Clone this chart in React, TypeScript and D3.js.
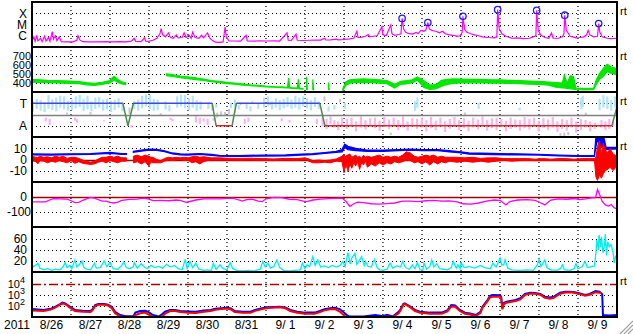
import React from 'react';
import * as d3 from 'd3';

const W = 633, H = 334;
const X0 = 32, X1 = 617;
const panelTops = [2, 47, 92, 137, 182, 227, 272];
const PH = 45;
const dayLabels = ['8/26','8/27','8/28','8/29','8/30','8/31','9/ 1','9/ 2','9/ 3','9/ 4','9/ 5','9/ 6','9/ 7','9/ 8','9/ 9'];
const yearLabel = '2011';

// X-ray flux [day, W/m2]
const xray: [number, number][] = [
[0.00,3.0e-7],[0.05,8e-7],[0.08,3.2e-7],[0.12,1.1e-6],[0.15,3.5e-7],[0.22,6e-7],[0.26,3.0e-7],[0.32,9e-7],[0.36,3.4e-7],[0.42,7e-7],[0.46,3.2e-7],[0.52,2.3e-6],[0.55,5e-7],[0.60,1.0e-6],[0.64,3.5e-7],[0.70,8e-7],[0.75,3.0e-7],[0.85,2.9e-7],[0.95,2.8e-7],
[1.05,2.9e-7],[1.15,4e-7],[1.18,1.0e-6],[1.22,4.5e-7],[1.3,3.0e-7],[1.45,2.8e-7],[1.6,2.9e-7],[1.75,2.8e-7],[1.9,3.0e-7],
[2.0,2.9e-7],[2.1,2.8e-7],[2.25,3.0e-7],[2.4,2.9e-7],[2.55,3.3e-7],[2.62,6e-7],[2.66,3.2e-7],[2.8,3.0e-7],[2.88,6.5e-7],[2.92,3.2e-7],[3.0,3.3e-7],
[3.1,4e-7],[3.2,6e-7],[3.28,1.5e-6],[3.31,4.2e-6],[3.35,1.2e-6],[3.42,8e-7],[3.5,1.8e-6],[3.55,7e-7],[3.62,6e-7],[3.7,1.2e-6],[3.75,6.5e-7],[3.85,7e-7],[3.9,1.8e-6],[3.95,7e-7],[4.02,1.2e-6],[4.08,6e-7],[4.12,2.1e-6],[4.18,7e-7],[4.28,6e-7],[4.35,1.1e-6],[4.4,6.5e-7],[4.5,1.8e-6],[4.56,6e-7],[4.62,4e-7],[4.7,2.7e-7],[4.8,2.6e-7],[4.9,2.8e-7],
[4.95,6e-6],[4.98,8e-7],[5.05,3.5e-7],[5.2,3.4e-7],[5.35,3.3e-7],[5.49,1.1e-6],[5.52,3.5e-7],[5.7,3.3e-7],[5.85,3.6e-7],[6.0,3.4e-7],[6.2,3.5e-7],[6.35,3.4e-7],[6.54,1.8e-6],[6.57,4e-7],[6.65,3.8e-7],[6.77,1.4e-6],[6.8,4e-7],[6.95,3.8e-7],[7.1,4e-7],[7.25,4.2e-7],[7.4,4.1e-7],[7.5,6e-7],[7.53,4.2e-7],[7.65,4.3e-7],[7.8,5e-7],[7.85,4.3e-7],[7.95,4.4e-7],[8.05,5e-7],[8.15,5.2e-7],[8.25,6e-7],[8.33,2.5e-6],[8.36,7e-7],[8.45,7.5e-7],[8.55,9e-7],[8.62,1.3e-6],[8.66,8e-7],[8.75,9e-7],[8.85,1.0e-6],[8.97,6e-6],[9.0,1.2e-6],[9.08,1.0e-6],[9.2,9e-6],[9.23,1.5e-6],[9.3,1.1e-6],[9.4,1.3e-6],[9.46,1.5e-6],[9.49,3.5e-5],[9.53,4e-6],[9.58,2e-6],[9.65,1.6e-6],[9.75,1.4e-6],[9.85,2e-6],[9.9,1.5e-6],[9.97,3e-6],[10.05,2.5e-6],[10.1,3.5e-6],[10.15,1.5e-5],[10.19,4e-6],[10.25,3e-6],[10.35,2.5e-6],[10.45,1.8e-6],[10.52,2.5e-6],[10.6,1.5e-6],[10.7,1.2e-6],[10.8,1.1e-6],[10.9,9e-7],[10.98,1.0e-6],[11.03,2e-6],[11.05,5.3e-5],[11.09,4e-6],[11.15,2e-6],[11.25,1.5e-6],[11.35,1.2e-6],[11.45,1.0e-6],[11.55,8e-7],[11.7,7e-7],[11.85,6.5e-7],[11.92,8e-7],[11.94,2.1e-4],[11.98,4e-6],[12.05,1.5e-6],[12.15,9e-7],[12.3,6e-7],[12.45,6.5e-7],[12.6,5.5e-7],[12.75,6e-7],[12.85,8e-7],[12.92,1e-6],[12.94,1.8e-4],[12.98,3e-6],[13.05,1.1e-6],[13.15,7e-7],[13.25,6e-7],[13.32,1.8e-6],[13.36,6e-7],[13.5,6e-7],[13.6,8e-7],[13.64,1.5e-6],[13.66,6.7e-5],[13.7,3e-6],[13.8,9e-7],[13.95,6.5e-7],[14.05,7e-7],[14.15,8e-7],[14.22,1.2e-6],[14.26,3.0e-6],[14.3,1.2e-6],[14.4,8e-7],[14.5,9e-7],[14.53,1.2e-5],[14.56,2e-6],[14.62,8e-7],[14.75,6e-7],[14.85,5.5e-7],[15.0,6e-7]
];
const flares: [number, number][] = [[9.49,3.5e-5],[10.15,1.5e-5],[11.05,5.3e-5],[11.94,2.1e-4],[12.94,1.8e-4],[13.66,6.7e-5],[14.53,1.2e-5]];

// Solar wind speed [day, low, high] km/s, null = gap
const speed: [number, number | null, number | null][] = [
[0.0,410,440],[0.2,408,435],[0.4,405,430],[0.6,402,428],[0.8,398,424],[1.0,395,420],[1.2,392,416],[1.4,380,404],[1.6,374,395],[1.8,384,408],[2.0,400,428],[2.1,435,475],[2.2,405,438],[2.3,390,414],[2.4,384,404],
[2.41,null,null],
[3.45,482,503],[3.6,472,493],[3.8,458,478],[4.0,448,467],[4.2,438,456],[4.4,428,444],[4.6,414,428],[4.8,403,418],[5.0,394,408],[5.2,386,398],[5.4,377,390],[5.6,370,380],[5.8,364,374],[6.0,358,366],[6.2,353,360],[6.4,349,356],[6.55,346,353],[6.58,346,456],[6.61,343,350],[6.8,337,344],[6.83,336,440],[6.86,335,342],[6.95,333,339],
[6.96,null,null],
[7.04,325,470],[7.06,325,330],[7.07,null,null],
[7.2,325,440],[7.22,325,330],[7.23,null,null],
[7.6,325,405],[7.62,325,330],[7.63,null,null],
[7.97,320,340],[8.05,375,415],[8.15,398,436],[8.3,405,440],[8.5,408,445],[8.7,404,440],[8.9,398,435],[9.1,392,428],[9.3,345,385],[9.45,385,418],[9.6,390,426],[9.75,403,436],[9.88,432,468],[10.05,350,425],[10.2,328,378],[10.35,335,382],[10.5,365,430],[10.65,385,440],[10.8,395,445],[11.0,400,442],[11.25,402,440],[11.5,403,441],[11.75,398,436],[12.0,398,434],[12.25,395,430],[12.5,392,428],[12.75,388,422],[13.0,385,418],[13.25,375,410],[13.45,350,405],[13.6,345,400],[13.65,345,490],[13.72,340,395],[13.8,335,480],[13.88,333,475],[13.95,327,343],[14.2,323,338],[14.4,326,343],[14.47,385,435],[14.55,440,505],[14.65,475,562],[14.75,528,608],[14.85,505,578],[15.0,492,560]
];

// IMF sector (phi deg, 315 = T, 135 = A)
const sectorDay = [0, 2.33, 2.46, 2.6, 4.62, 4.72, 5.13, 5.24, 7.38, 7.51, 14.87, 15.0];
const sectorPhi = [315, 315, 135, 315, 315, 135, 135, 315, 315, 135, 135, 290];

// phi scatter ranges [day, low, high]
const phiToward: [number, number, number][] = [
[0.02,250,330],[0.12,270,350],[0.22,255,340],[0.32,245,320],[0.42,270,380],[0.52,260,345],[0.62,250,360],[0.72,280,375],[0.82,265,370],[0.92,255,335],
[1.02,260,345],[1.12,275,370],[1.22,285,380],[1.32,255,350],[1.42,265,375],[1.52,250,330],[1.62,270,360],[1.72,280,365],[1.82,255,345],[1.92,265,350],
[2.02,245,335],[2.12,260,340],[2.22,280,355],[2.32,250,320],[2.62,270,330],[2.72,255,345],[2.82,275,375],[2.92,290,385],[3.02,270,380],[3.12,255,350],[3.22,260,345],[3.42,265,330],[3.52,250,300],
[3.72,280,370],[3.82,290,385],[3.92,275,380],[4.02,260,355],[4.12,280,375],[4.22,255,340],[4.32,265,330],[4.52,270,320],[4.62,255,300],[4.72,280,310],
[5.1,275,320],[5.2,285,345],[5.3,265,300],[5.5,270,320],[5.6,250,290],[5.8,270,310],[5.95,280,360],[6.05,290,370],[6.15,265,330],[6.25,280,355],[6.35,260,340],[6.45,275,350],[6.55,285,365],[6.65,270,345],[6.75,280,375],[6.85,265,360],[6.95,290,370],[7.05,275,355],[7.15,260,340],[7.25,285,365],[7.35,270,330],
[7.6,250,290],[7.75,265,300],[8.02,270,320],[9.82,255,330],[9.88,280,360],[11.45,270,320],[12.5,260,280],[14.08,265,360],[14.12,285,375],[14.55,260,350],[14.65,280,380],[14.75,270,370],[14.85,255,340],[14.95,280,370]
];
const phiAway: [number, number, number][] = [
[0.35,170,200],[0.45,140,190],[1.1,175,200],[1.15,160,190],[1.85,170,180],[2.55,120,140],[3.55,180,200],[3.6,170,190],[4.2,160,210],[4.3,150,200],[4.4,170,195],[4.5,140,190],[4.65,175,195],[5.45,150,190],[5.55,165,200],[6.4,170,195],[6.6,160,180],[7.3,150,190],
[7.45,130,200],[7.55,110,190],[7.65,150,210],[7.75,120,180],[7.85,100,170],[7.95,140,200],[8.07,110,190],[8.19,130,200],[8.31,90,170],[8.43,120,210],[8.55,105,180],[8.67,135,195],[8.79,115,200],[8.91,95,175],[9.03,125,205],[9.15,110,185],[9.27,140,200],[9.39,100,180],[9.51,120,210],[9.63,95,170],[9.75,130,195],[9.87,110,190],[9.99,120,200],[10.11,90,180],[10.23,115,205],[10.35,100,175],[10.47,130,200],[10.59,85,170],[10.71,110,190],[10.83,125,205],[10.95,100,180],[11.07,115,195],[11.19,90,175],[11.31,120,200],[11.43,105,185],[11.55,130,210],[11.67,95,180],[11.79,115,195],[11.91,100,200],[12.03,125,190],[12.15,90,175],[12.27,110,200],[12.39,120,185],[12.51,95,180],[12.63,115,205],[12.75,105,190],[12.87,130,200],[12.99,90,175],[13.11,115,195],[13.23,100,185],[13.35,120,205],[13.47,85,170],[13.59,110,190],[13.71,95,180],[13.83,120,200],[13.95,80,170],[14.07,100,190],[14.19,120,180],[14.31,90,170],[14.43,110,160],[14.6,120,180],[14.7,100,170],[14.8,110,190],[14.9,130,170]
];
const phiOther: [number, number, number][] = [
[0.9,225,240],[1.5,225,245],[2.5,230,280],[3.3,215,235],[4.75,200,240],[4.85,210,250],[4.95,220,245],[5.05,230,270],[5.35,300,320],[5.65,310,330],[6.1,300,320],[7.5,330,370],[7.9,320,350],[9.2,60,80],[11.1,220,240],[13.55,55,75],[13.65,50,80],[13.75,60,85],[14.2,215,240]
];

// Bt [day, low, high] nT
const bt: [number, number | null, number | null][] = [
[0,4.3,5.1],[0.5,4.1,4.9],[1.0,4.4,5.2],[1.5,4.6,5.4],[2.0,5.6,6.4],[2.3,4.6,5.4],[2.42,4.6,5.4],[2.43,null,null],[2.6,6.6,7.4],[2.8,7.6,8.4],[3.0,8.6,9.4],[3.2,8.3,9.1],[3.4,7.1,7.9],[3.6,5.1,5.9],[3.8,4.3,5],[4.0,4.1,4.9],[4.3,4.6,5.4],[4.6,3.8,4.6],[4.8,3.0,3.8],[5.3,2.8,3.5],[5.9,3.2,4.0],[6.5,3.4,4.1],[6.9,4,4.8],[7.2,4.5,5.3],[7.5,5.5,6.3],[7.8,6.5,7.3],[7.95,7,9],[8.02,11,14],[8.1,9,12],[8.3,8,10],[8.6,7.5,8.5],[9.0,7.5,8.5],[9.4,8,9],[9.7,8.5,9.5],[10.0,8,9],[10.4,8,9],[10.7,7,8],[11.0,6,7],[11.2,5,6],[11.8,4.5,5.5],[12.5,4.2,5],[13.0,4,4.7],[13.5,3.3,4],[14.0,2.8,3.5],[14.42,2.8,3.5],[14.46,12,21],[14.5,18,21],[14.58,11,21],[14.66,12,21],[14.72,9,11],[14.85,9.5,11],[15.0,9.5,11]
];
// Bz [day, low, high] nT
const bz: [number, number | null, number | null][] = [
[0.0,-1,3],[0.1,-2,2],[0.15,-4,2],[0.2,-1,3],[0.3,-1.5,2],[0.4,-3,2.5],[0.5,-1.5,1.5],[0.6,-2.5,3],[0.7,-1,2],[0.8,-2,3],[0.9,-3,1],[1.0,-1,2],[1.1,-3.5,2],[1.2,-2,1],[1.3,-3.5,-0.5],[1.4,-4,-1.5],[1.5,-4.5,-2.5],[1.6,-4,-1.5],[1.7,-2.5,0.5],[1.8,-1.5,2],[1.9,-3,2],[2.0,-1,3],[2.1,-2,2],[2.2,-3,3],[2.3,-1.5,1.5],[2.42,-1.5,1.5],[2.43,null,null],
[2.6,-3,3],[2.7,-2,4],[2.8,-4,2.5],[2.9,-2,4],[3.0,-6,3],[3.05,-2,2],[3.1,-3,2],[3.2,-3,0],[3.3,-3,-1],[3.4,-1.5,1],[3.5,-0.5,2],[3.6,-1,1.5],[3.7,-0.5,2],[3.8,0,1.5],[3.9,-1,2],[4.0,-0.5,1.5],[4.1,-3,2.5],[4.2,-2,3],[4.3,-4,2],[4.4,-2,2.5],[4.5,-1,2],[4.6,-0.5,1.5],[4.8,-0.5,1.5],[5.0,-0.5,1.2],[5.3,-0.8,1],[5.6,-0.5,1.2],[5.9,-0.8,0.8],[6.2,-1,0.5],[6.5,-0.5,1],[6.8,-0.8,0.8],[7.0,0,1.5],[7.1,-1.5,0.5],[7.2,-3,-1],[7.35,-3,-0.5],[7.5,-2.5,-1],[7.65,-3,-0.5],[7.8,-1.5,0.5],[7.95,-2,3],
[8.0,-12,5],[8.03,-4,2],[8.05,-8,3],[8.08,-2,4],[8.1,-11,4],[8.15,-4,5],[8.2,-8,2],[8.25,-3,3],[8.3,-6,4],[8.35,-2,2],[8.4,-9,3],[8.45,-3,1],[8.5,-5,4],[8.55,-1,2],[8.6,-7,3],[8.7,-4,2],[8.8,-6,3],[8.9,-3,4],[9.0,-5,2],[9.1,-3,3],[9.2,-4,2],[9.3,-2,3],[9.4,-3,2],[9.5,-2,4],[9.6,-0.5,7],[9.7,-1,6],[9.8,-3,3],[9.9,-2,2],[10.0,-4,3],[10.1,-2,4],[10.2,-5,3],[10.3,-2,4],[10.4,-4,2],[10.5,-2,3],[10.6,-3,2],[10.7,-1.5,2],[10.9,-2.5,2],[11.1,-1.5,1.5],[11.3,-2.5,2],[11.5,-1.5,1],[11.7,-2.5,1.5],[11.9,-1.5,1.5],[12.1,-0.8,0.8],[12.3,-1.5,0.8],[12.5,-1,0.8],[12.7,-0.8,0.8],[12.9,-1,0.3],[13.1,-0.8,0.8],[13.3,-0.8,0.3],[13.5,-0.8,0.8],[13.7,-0.3,0.8],[13.9,-0.8,0.3],[14.1,-0.3,0.8],[14.3,-0.8,0.8],[14.42,-0.3,0.8],
[14.46,-16,2],[14.5,-19,12],[14.55,-14,17],[14.6,-17,5],[14.65,-13,15],[14.7,-10,9],[14.76,-9,6],[14.82,-7,10],[14.9,-10,5],[15.0,-6,3]
];

// Dst index [day, nT]
const dst: [number, number][] = [
[0,-33],[0.2,-33],[0.35,-32],[0.45,-20],[0.55,-11],[0.7,-12],[0.9,-14],[1.0,-25],[1.1,-38],[1.2,-36],[1.3,-22],[1.4,-12],[1.5,-3],[1.6,-8],[1.7,-18],[1.8,-27],[1.9,-28],[2.0,-36],[2.1,-40],[2.2,-34],[2.3,-22],[2.5,-16],[2.7,-14],[2.85,-8],[3.0,-14],[3.1,-24],[3.3,-22],[3.5,-25],[3.7,-20],[3.8,-22],[3.95,-36],[4.05,-30],[4.2,-20],[4.4,-13],[4.6,-12],[4.8,-13],[5.0,-9],[5.15,-8],[5.3,-20],[5.4,-27],[5.5,-18],[5.65,-15],[5.8,-28],[5.9,-31],[6.0,-12],[6.2,-3],[6.4,-4],[6.6,-15],[6.8,-18],[6.95,-28],[7.05,-31],[7.2,-20],[7.4,-14],[7.6,-11],[7.8,-9],[7.95,-7],[8.05,-30],[8.15,-62],[8.25,-45],[8.35,-35],[8.5,-38],[8.7,-45],[8.9,-48],[9.1,-44],[9.3,-40],[9.5,-28],[9.7,-27],[9.9,-31],[10.1,-25],[10.3,-22],[10.5,-27],[10.7,-26],[10.9,-32],[11.05,-45],[11.25,-47],[11.45,-40],[11.65,-28],[11.85,-20],[12.0,-22],[12.15,-53],[12.25,-30],[12.45,-20],[12.7,-18],[12.9,-22],[13.05,-40],[13.15,-53],[13.3,-20],[13.5,-13],[13.7,-15],[13.9,-10],[14.05,-18],[14.2,-12],[14.35,-5],[14.45,-4],[14.5,51],[14.55,20],[14.62,-30],[14.7,-53],[14.78,-60],[14.85,-50],[14.92,-70],[15.0,-82]
];

// panel 6 series [day, value]
const cyanSeries: [number, number][] = [
[0,8],[0.08,12],[0.15,16],[0.2,7],[0.3,4],[0.4,6],[0.5,3],[0.6,5],[0.72,4],[0.8,10],[0.85,17],[0.9,8],[0.97,12],[1.02,6],[1.1,22],[1.15,9],[1.22,14],[1.28,20],[1.33,8],[1.4,5],[1.5,4],[1.6,16],[1.65,7],[1.75,8],[1.85,20],[1.92,10],[2.0,17],[2.08,6],[2.2,5],[2.3,12],[2.35,18],[2.42,8],[2.5,6],[2.6,10],[2.62,17],[2.7,7],[2.8,15],[2.88,9],[2.95,6],[3.05,12],[3.15,8],[3.25,10],[3.35,7],[3.45,14],[3.55,9],[3.65,12],[3.75,6],[3.85,4],[3.93,23],[3.98,6],[4.05,19],[4.12,8],[4.2,16],[4.28,5],[4.4,3],[4.5,4],[4.6,3],[4.65,16],[4.72,5],[4.82,13],[4.9,6],[5.0,4],[5.08,17],[5.15,6],[5.25,3],[5.4,2],[5.55,3],[5.7,2],[5.85,5],[5.92,19],[5.98,9],[6.05,16],[6.12,7],[6.2,10],[6.28,22],[6.35,8],[6.45,3],[6.6,2],[6.75,3],[6.88,4],[6.93,16],[7.0,6],[7.05,13],[7.12,10],[7.2,28],[7.26,12],[7.33,22],[7.4,9],[7.5,11],[7.6,8],[7.7,12],[7.8,9],[7.9,12],[7.97,19],[8.03,10],[8.1,35],[8.16,15],[8.2,25],[8.28,34],[8.33,14],[8.38,19],[8.45,28],[8.52,12],[8.55,19],[8.62,10],[8.7,9],[8.78,23],[8.85,8],[8.92,4],[9.0,3],[9.1,5],[9.18,16],[9.25,7],[9.35,11],[9.45,9],[9.5,19],[9.58,8],[9.68,5],[9.75,13],[9.82,6],[9.88,17],[9.95,4],[10.02,3],[10.05,16],[10.12,5],[10.2,10],[10.25,22],[10.3,9],[10.38,15],[10.45,6],[10.55,5],[10.65,4],[10.75,8],[10.8,19],[10.88,7],[10.92,13],[10.98,6],[11.0,17],[11.08,8],[11.2,10],[11.35,7],[11.5,12],[11.6,8],[11.75,6],[11.82,16],[11.9,9],[12.0,25],[12.05,12],[12.1,14],[12.13,22],[12.2,7],[12.3,4],[12.5,3],[12.7,4],[12.85,3],[12.95,12],[13.0,23],[13.05,10],[13.15,22],[13.2,8],[13.3,4],[13.45,3],[13.55,6],[13.6,13],[13.65,4],[13.8,3],[13.9,6],[13.95,15],[14.0,6],[14.1,9],[14.18,19],[14.24,8],[14.35,10],[14.42,11],[14.46,35],[14.48,58],[14.52,40],[14.54,67],[14.58,45],[14.6,64],[14.64,35],[14.68,49],[14.7,69],[14.73,30],[14.76,55],[14.8,46],[14.85,50],[14.9,35],[14.93,16],[14.96,28],[15.0,24]
];

// electron flux, two channels [day, flux]
const elecBlue: [number, number][] = [
[0,54],[0.3,44],[0.5,60],[0.6,87],[0.72,150],[0.78,200],[0.85,170],[0.97,87],[1.1,44],[1.3,37],[1.5,35],[1.55,50],[1.62,120],[1.7,150],[1.85,150],[1.95,130],[2.05,80],[2.13,30],[2.26,15],[2.4,11.5],[2.6,12],[2.65,25],[2.77,35],[2.9,37],[2.97,30],[3.1,15],[3.25,11],[3.35,20],[3.41,30],[3.54,44],[3.67,44],[3.8,35],[4.0,32],[4.2,30],[4.4,40],[4.58,44],[4.7,55],[4.85,62],[5.0,70],[5.1,60],[5.2,35],[5.4,30],[5.6,30],[5.72,44],[5.9,62],[6.05,76],[6.35,87],[6.5,75],[6.62,44],[6.8,30],[7.0,25],[7.25,25],[7.38,35],[7.5,50],[7.64,62],[7.77,70],[7.9,50],[8.02,22],[8.07,15],[8.15,11],[8.5,11],[8.8,15],[9.0,12],[9.1,16],[9.25,11],[9.4,30],[9.45,50],[9.52,150],[9.56,175],[9.7,87],[9.82,44],[9.95,30],[10.2,25],[10.5,25],[10.65,40],[10.75,120],[10.85,110],[10.97,44],[11.1,25],[11.23,21],[11.38,15],[11.5,30],[11.55,87],[11.68,350],[11.74,800],[11.8,1000],[12.0,950],[12.03,700],[12.06,62],[12.1,200],[12.17,250],[12.3,300],[12.4,350],[12.52,500],[12.64,1230],[12.77,1580],[12.9,1500],[13.03,1230],[13.15,700],[13.28,580],[13.38,700],[13.54,1580],[13.67,2000],[13.8,2000],[13.92,1740],[14.05,1410],[14.18,1000],[14.3,1230],[14.45,2300],[14.55,2000],[14.62,1200],[14.64,15],[14.8,14],[15.0,15]
];
const elecRed: [number, number][] = [
[0,40],[0.3,35],[0.5,50],[0.6,75],[0.72,130],[0.78,170],[0.85,150],[0.97,70],[1.1,35],[1.3,30],[1.5,28],[1.55,40],[1.62,100],[1.7,130],[1.85,130],[1.95,110],[2.05,60],[2.13,22],[2.26,11],[2.4,9],[2.6,9],[2.65,15],[2.77,22],[2.9,25],[2.97,18],[3.1,10],[3.25,9],[3.35,12],[3.41,20],[3.54,35],[3.67,35],[3.8,28],[4.0,24],[4.2,23],[4.4,30],[4.58,35],[4.7,45],[4.85,52],[5.0,58],[5.1,48],[5.2,28],[5.4,24],[5.6,24],[5.72,36],[5.9,52],[6.05,65],[6.35,75],[6.5,62],[6.62,35],[6.8,24],[7.0,20],[7.25,20],[7.38,28],[7.5,40],[7.64,50],[7.77,52],[7.9,30],[8.02,12],[8.07,9],[8.15,8],[8.5,8],[8.8,10],[9.0,9],[9.1,11],[9.25,8],[9.4,22],[9.45,40],[9.52,130],[9.56,150],[9.7,75],[9.82,35],[9.95,24],[10.2,20],[10.5,20],[10.65,32],[10.75,90],[10.85,85],[10.97,35],[11.1,20],[11.23,17],[11.38,12],[11.5,24],[11.55,70],[11.68,280],[11.74,600],[11.8,700],[12.0,680],[12.03,500],[12.06,50],[12.1,150],[12.17,200],[12.3,240],[12.4,280],[12.52,400],[12.64,1000],[12.77,1350],[12.9,1300],[13.03,1050],[13.15,550],[13.28,460],[13.38,560],[13.54,1300],[13.67,1700],[13.8,1750],[13.92,1500],[14.05,1200],[14.18,850],[14.3,1050],[14.45,1800],[14.55,1600],[14.6,1500]
];

const FONT = '"Liberation Sans", Arial, Helvetica, sans-serif';

export default function App() {
  const x = d3.scaleLinear().domain([0, 15]).range([X0, X1]);
  const yX = d3.scaleLog().domain([1e-7, 1e-3]).range([47, 2]).clamp(true);
  const ySp = d3.scaleLinear().domain([300, 800]).range([92, 47]).clamp(true);
  const yPhi = d3.scaleLinear().domain([45, 405]).range([137, 92]).clamp(true);
  const yB = d3.scaleLinear().domain([-20.45, 20.45]).range([182, 137]).clamp(true);
  const yD = d3.scaleLinear().domain([-200, 100]).range([227, 182]).clamp(true);
  const yC = d3.scaleLinear().domain([0, 81.8]).range([272, 227]).clamp(true);
  const yE = d3.scaleLog().domain([10, Math.pow(10, 5.09)]).range([317, 272]).clamp(true);

  const rnd = (v: number) => Math.round(v) + 0.5;

  const xrayLine = d3.line<[number, number]>().x(d => x(d[0])).y(d => yX(d[1]))(xray) || '';
  const band = (ys: (v: number) => number) => d3.area<[number, number | null, number | null]>()
    .defined(d => d[1] != null)
    .x(d => x(d[0])).y0(d => ys(d[1] as number)).y1(d => ys(d[2] as number));
  const speedArea = band(ySp)(speed) || '';
  const btArea = band(yB)(bt) || '';
  const bzArea = band(yB)(bz) || '';
  const dstLine = d3.line<[number, number]>().x(d => x(d[0])).y(d => yD(d[1]))(dst) || '';
  const cyanLine = d3.line<[number, number]>().x(d => x(d[0])).y(d => yC(d[1]))(cyanSeries) || '';
  const eBlue = d3.line<[number, number]>().x(d => x(d[0])).y(d => yE(d[1]))(elecBlue) || '';
  const eRed = d3.line<[number, number]>().x(d => x(d[0])).y(d => yE(d[1]))(elecRed) || '';

  const sectorSegs = sectorDay.slice(1).map((t, i) => {
    const p0 = sectorPhi[i], p1 = sectorPhi[i + 1];
    const col = p0 === 315 && p1 === 315 ? '#4646dc' : p0 === 135 && p1 === 135 ? '#d42a2a' : '#4f8a4f';
    return { x1: x(sectorDay[i]), y1: yPhi(p0), x2: x(t), y2: yPhi(p1), col };
  });

  const dotted = '1,3';
  const hGrid: number[] = [
    ...[1e-4, 1e-5, 1e-6].map(v => yX(v)),
    ...[400, 500, 600, 700].map(v => ySp(v)),
    yPhi(315), yPhi(135),
    yB(10), yB(-10),
    yD(-100),
    ...[20, 40, 60].map(v => yC(v)),
    yE(1000), yE(100),
  ];

  type Lab = { y: number; t: string; ax: number; fs: number; sup?: string };
  const labels: Lab[] = [
    { y: yX(1e-4), t: 'X', ax: 27, fs: 12 }, { y: yX(1e-5), t: 'M', ax: 27, fs: 12 }, { y: yX(1e-6), t: 'C', ax: 27, fs: 12 },
    ...[700, 600, 500, 400].map(v => ({ y: ySp(v), t: String(v), ax: 31, fs: 11 })),
    { y: yPhi(315), t: 'T', ax: 27, fs: 12 }, { y: yPhi(135), t: 'A', ax: 27, fs: 12 },
    ...[10, 0, -10].map(v => ({ y: yB(v), t: String(v), ax: 27, fs: 12 })),
    { y: yD(0), t: '0', ax: 27, fs: 12 }, { y: yD(-100), t: '-100', ax: 31, fs: 12 },
    ...[60, 40, 20].map(v => ({ y: yC(v), t: String(v), ax: 27, fs: 12 })),
    { y: yE(1e4), t: '10', ax: 25, fs: 11, sup: '4' }, { y: yE(1e3), t: '10', ax: 25, fs: 11, sup: '3' }, { y: yE(100), t: '10', ax: 25, fs: 11, sup: '2' },
  ];

  const rtPanels = [0, 1, 2, 3, 6];

  return (
    <svg width={W} height={H} style={{ position: 'absolute', left: 0, top: 0, background: '#fff' }} fontFamily={FONT}>
      <defs>
        {panelTops.map((t, i) => (
          <clipPath id={`cp${i}`} key={i}><rect x={X0} y={t} width={X1 - X0} height={PH} /></clipPath>
        ))}
      </defs>
      <rect x={0} y={0} width={W} height={H} fill="#fff" />
      {/* grid */}
      {d3.range(1, 15).map(k => (
        <line key={'vg' + k} x1={rnd(x(k)) - 0.5} x2={rnd(x(k)) - 0.5} y1={2} y2={317} stroke="#000" strokeWidth={1.2} strokeDasharray={dotted} />
      ))}
      {hGrid.map((y, i) => (
        <line key={'hg' + i} x1={X0} x2={X1} y1={rnd(y)} y2={rnd(y)} stroke="#000" strokeWidth={1.2} strokeDasharray={dotted} />
      ))}
      {/* reference lines */}
      <line x1={X0} x2={X1} y1={rnd(yB(0))} y2={rnd(yB(0))} stroke="#a00000" strokeWidth={1.5} />
      <line x1={X0} x2={X1} y1={rnd(yD(0))} y2={rnd(yD(0))} stroke="#a00000" strokeWidth={1.5} />
      <line x1={X0} x2={X1} y1={rnd(yE(1e4))} y2={rnd(yE(1e4))} stroke="#a00000" strokeWidth={1.5} strokeDasharray="9,3,2,3" />

      {/* panel 1 */}
      <g clipPath="url(#cp0)">
        <path d={xrayLine} fill="none" stroke="#ff00ff" strokeWidth={1.2} />
        {flares.map((f, i) => (
          <circle key={i} cx={x(f[0])} cy={yX(f[1])} r={3.2} fill="none" stroke="#1c1cff" strokeWidth={1.3} />
        ))}
      </g>
      {/* panel 2 */}
      <g clipPath="url(#cp1)">
        <path d={speedArea} fill="#00e800" stroke="#00e800" strokeWidth={1.2} />
      </g>
      {/* panel 3 */}
      <g clipPath="url(#cp2)">
        {phiOther.map((d, i) => (
          <rect key={'po' + i} x={x(d[0]) - 1} y={yPhi(d[2])} width={2} height={yPhi(d[1]) - yPhi(d[2])} fill="#c8c8c8" />
        ))}
        {phiToward.map((d, i) => (
          <rect key={'pt' + i} x={x(d[0]) - 1} y={yPhi(d[2])} width={2.2} height={yPhi(d[1]) - yPhi(d[2])} fill="#b2e4f8" />
        ))}
        {phiAway.map((d, i) => (
          <rect key={'pa' + i} x={x(d[0]) - 1} y={yPhi(d[2])} width={2.2} height={yPhi(d[1]) - yPhi(d[2])} fill="#f5b6f2" />
        ))}
        <line x1={X0} x2={X1} y1={rnd(yPhi(225))} y2={rnd(yPhi(225))} stroke="#808080" strokeWidth={1.5} />
        {sectorSegs.map((s, i) => (
          <line key={'ss' + i} x1={s.x1} y1={s.y1} x2={s.x2} y2={s.y2} stroke={s.col} strokeWidth={1.5} />
        ))}
      </g>
      {/* panel 4 */}
      <g clipPath="url(#cp3)">
        <path d={btArea} fill="#0000ff" stroke="#0000ff" strokeWidth={1.3} />
        <path d={bzArea} fill="#ff0000" stroke="#ff0000" strokeWidth={1} />
      </g>
      {/* panel 5 */}
      <g clipPath="url(#cp4)">
        <path d={dstLine} fill="none" stroke="#ff00ff" strokeWidth={1.3} />
      </g>
      {/* panel 6 */}
      <g clipPath="url(#cp5)">
        <path d={cyanLine} fill="none" stroke="#00eeee" strokeWidth={1.3} />
      </g>
      {/* panel 7 */}
      <g clipPath="url(#cp6)">
        <path d={eBlue} fill="none" stroke="#0000ff" strokeWidth={2} />
        <path d={eRed} fill="none" stroke="#ff0000" strokeWidth={2} />
      </g>

      {/* frame */}
      {[...panelTops, 317].map((t, i) => (
        <line key={'pl' + i} x1={X0} x2={X1 + 1} y1={t} y2={t} stroke="#000" strokeWidth={2} />
      ))}
      <line x1={X0} x2={X0} y1={1} y2={318} stroke="#000" strokeWidth={2} />
      <line x1={X1} x2={X1} y1={1} y2={318} stroke="#000" strokeWidth={2} />

      {/* y labels */}
      {labels.map((l, i) => (
        <text key={'yl' + i} x={l.ax} y={l.y + l.fs * 0.36} textAnchor="end" fontSize={l.fs} fill="#000">
          {l.t}
          {l.sup ? <tspan fontSize={9} dy={-4.5}>{l.sup}</tspan> : null}
        </text>
      ))}
      {rtPanels.map(p => (
        <text key={'rt' + p} x={620} y={panelTops[p] + 13} fontSize={11} fill="#000">rt</text>
      ))}
      {/* x labels */}
      {dayLabels.map((d, i) => (
        <text key={'xl' + i} x={x(i + 0.5)} y={329} textAnchor="middle" fontSize={12} fill="#000">{d}</text>
      ))}
      <text x={4} y={329} fontSize={12} fill="#000">{yearLabel}</text>

      {/* window grip */}
      {[5, 9, 13].map(k => (
        <line key={'g' + k} x1={W - k} y1={H} x2={W} y2={H - k} stroke="#a0a0a0" strokeWidth={1.2} />
      ))}
    </svg>
  );
}
